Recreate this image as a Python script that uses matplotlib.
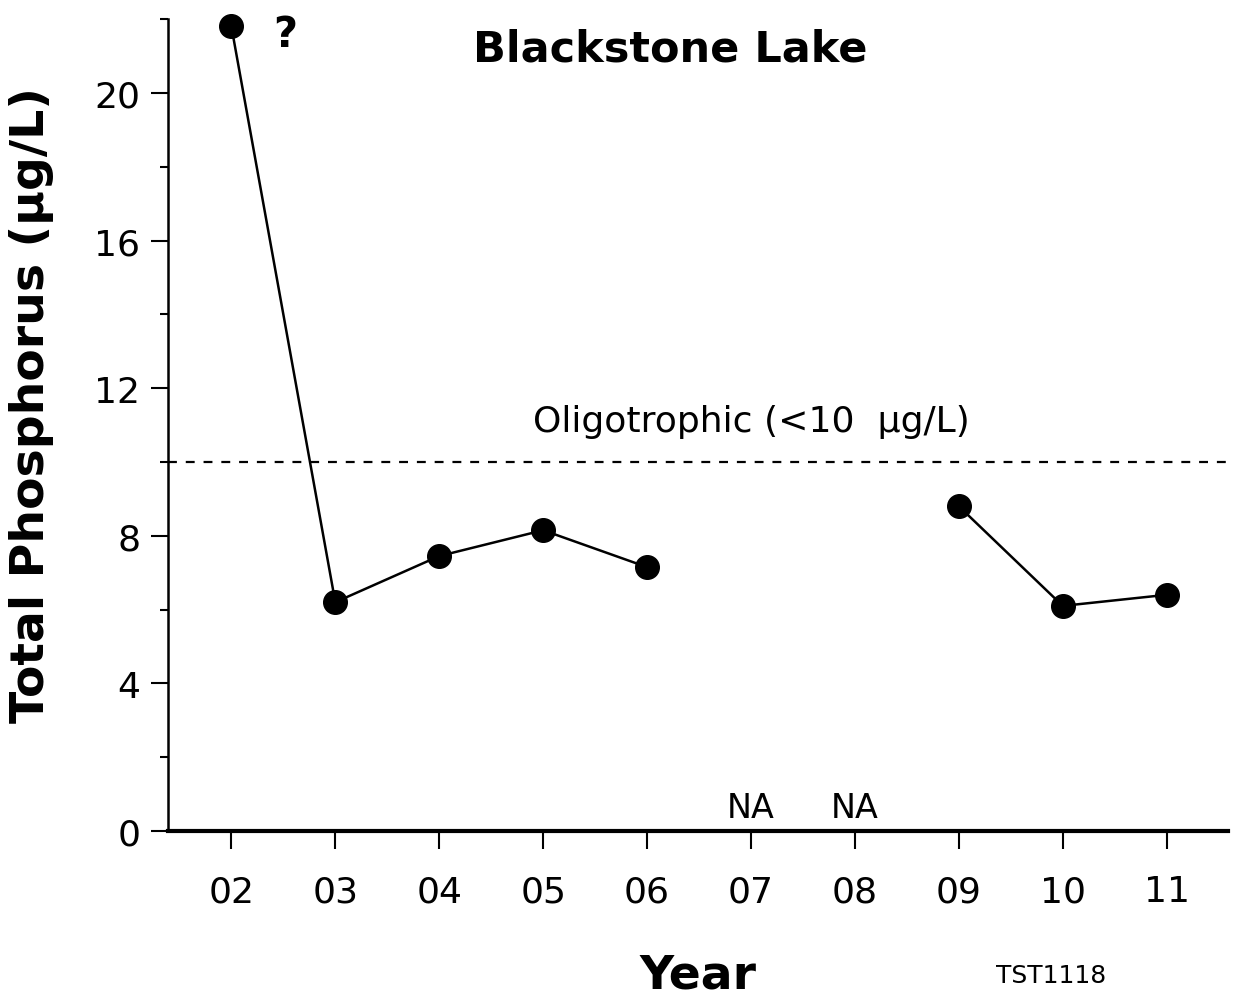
import numpy as np
import matplotlib.pyplot as plt

# data
years = [2, 3, 4, 5, 6, 7, 8, 9, 10, 11]
year_labels = ['02', '03', '04', '05', '06', '07', '08', '09', '10', '11']
tp = [21.8, 6.2, 7.45, 8.15, 7.15, np.nan, np.nan, 8.8, 6.1, 6.4]
na_years = [7, 8]
oligo_limit = 10

plt.rcParams['font.family'] = ['DejaVu Sans']

fig = plt.figure(figsize=(12.37, 10.04), dpi=100)
ax = fig.add_axes([0.1358, 0.1713, 0.8569, 0.8087])

ax.plot(years, tp, color='black', lw=1.8, marker='o', ms=17, zorder=3, clip_on=False)
ax.axhline(oligo_limit, color='black', lw=1.6, ls=(0, (4, 4)))

ax.text(7.0, 10.65, 'Oligotrophic (<10  µg/L)', fontsize=26, ha='center', va='bottom')
for yr in na_years:
    ax.text(yr, 0.2, 'NA', fontsize=24, ha='center', va='bottom')
ax.text(2.52, 21.6, '?', fontsize=30, fontweight='bold', ha='center', va='center')
ax.text(6.22, 21.2, 'Blackstone Lake', fontsize=31, fontweight='bold', ha='center', va='center')

ax.set_xlim(1.39, 11.59)
ax.set_ylim(0, 22)
ax.set_xticks(years)
ax.set_xticklabels(year_labels, fontsize=26)
ax.set_yticks([0, 4, 8, 12, 16, 20])
ax.set_yticks([2, 6, 10, 14, 18, 22], minor=True)
ax.tick_params(axis='y', labelsize=26, length=12, width=1.5, direction='out', pad=8)
ax.tick_params(axis='y', which='minor', length=6, width=1.5)
ax.tick_params(axis='x', length=13, width=1.5, direction='out', pad=18)

ax.spines['top'].set_visible(False)
ax.spines['right'].set_visible(False)
ax.spines['left'].set_linewidth(1.8)
ax.spines['bottom'].set_linewidth(3)

ax.set_ylabel('Total Phosphorus (µg/L)', fontsize=34, fontweight='bold')
ax.yaxis.set_label_coords(-0.108, 0.526)
fig.text(0.564, 0.028, 'Year', fontsize=34, fontweight='bold', ha='center', va='center')
fig.text(0.85, 0.028, 'TST1118', fontsize=18, ha='center', va='center')

plt.savefig('out.png', dpi=100)
